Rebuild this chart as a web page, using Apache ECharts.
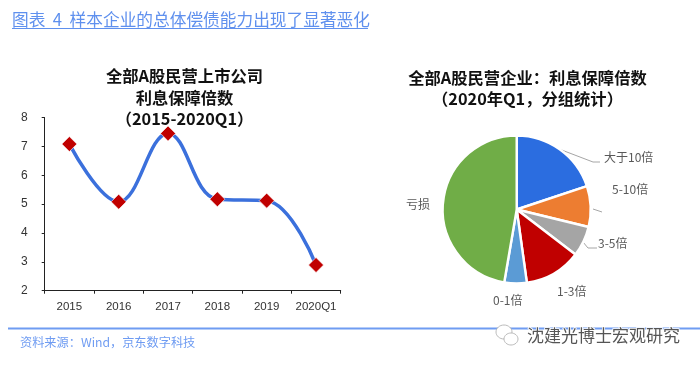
<!DOCTYPE html>
<html><head><meta charset="utf-8">
<style>html,body{margin:0;background:#fff}#c{width:700px;height:366px;filter:blur(0.45px)}</style>
<script src="https://cdn.jsdelivr.net/npm/echarts@6/dist/echarts.min.js"></script>
</head><body><div id="c"></div>
<script>
const years = ['2015','2016','2017','2018','2019','2020Q1'];
const coverage = [7.08,5.08,7.45,5.17,5.12,2.89];
const groups = ['大于10倍','5-10倍','3-5倍','1-3倍','0-1倍','亏损'];
const shares = [19.9,8.9,6.6,12.4,4.9,47.3];
const sliceColors = ['#2b6de0','#ed7d31','#a5a5a5','#c00000','#5b9bd5','#70ad47'];
const labelSpots = [[604,157,'left'],[612,189,'left'],[598,243,'left'],[557,291,'left'],[493,300,'left'],[406,204,'left']];
const leaders = [[[559,149],[593,162],[600,162]],[[593,209],[602,212]],[[583,242],[588,248],[597,248]]];
const cjk = '"Noto Sans CJK SC"';
const latin = '"Liberation Sans","Noto Sans CJK SC"';
const chart = echarts.init(document.getElementById('c'),null,{renderer:'canvas'});
const titleStyle = {fontFamily:cjk,fontWeight:'bold',fontSize:16.3,color:'#111',lineHeight:21.5,align:'center'};
chart.setOption({
  animation:false,
  backgroundColor:'#fff',
  title:[
    {text:'图表  4  样本企业的总体偿债能力出现了显著恶化',left:7,top:6.5,textStyle:{fontFamily:cjk,fontWeight:'normal',fontSize:16.7,color:'#5f90ee'}},
    {text:'全部A股民营上市公司\n利息保障倍数\n（2015-2020Q1）',left:179.5,top:60.5,textAlign:'center',textStyle:titleStyle},
    {text:'全部A股民营企业：利息保障倍数\n（2020年Q1，分组统计）',left:522.5,top:62,textAlign:'center',textStyle:titleStyle},
    {text:'资料来源：Wind，京东数字科技',left:15,top:331,textStyle:{fontFamily:cjk,fontWeight:'normal',fontSize:12.2,color:'#6f9cf2'}}
  ],
  grid:{left:44.7,right:359.3,top:117.5,bottom:75.3,containLabel:false},
  xAxis:{type:'category',data:years,boundaryGap:true,
    axisLine:{lineStyle:{color:'#222',width:1}},
    axisTick:{show:true,alignWithLabel:false,length:3,lineStyle:{color:'#222'}},
    axisLabel:{fontFamily:latin,fontSize:11.5,color:'#333',margin:10,interval:0}},
  yAxis:{type:'value',min:2,max:8,interval:1,
    axisLine:{show:true,lineStyle:{color:'#222',width:1}},
    axisTick:{show:true,length:3,lineStyle:{color:'#222'}},
    splitLine:{show:false},
    axisLabel:{fontFamily:latin,fontSize:12,color:'#333',margin:17}},
  series:[
    {type:'line',data:coverage,smooth:0.4,symbol:'diamond',symbolSize:15,z:3,
     lineStyle:{color:'#3b70dc',width:3.5},
     itemStyle:{color:'#c00000',borderColor:'#fff',borderWidth:0.6}},
    {type:'pie',center:[516.7,209.5],radius:[0,74],startAngle:90,clockwise:true,
     data:groups.map((n,i)=>({name:n,value:shares[i],itemStyle:{color:sliceColors[i]}})),
     itemStyle:{borderColor:'#fff',borderWidth:2.4},
     label:{show:true,formatter:'{b}',fontFamily:cjk,fontSize:12,color:'#595959'},
     labelLine:{show:false},
     labelLayout:p=>{const s=labelSpots[p.dataIndex];return {x:s[0],y:s[1],align:s[2],verticalAlign:'middle'};}}
  ],
  graphic:[
    {type:'line',shape:{x1:8,y1:328.5,x2:700,y2:328.5},style:{stroke:'#6f9cf2',lineWidth:2}},
    {type:'line',shape:{x1:12,y1:28.5,x2:368,y2:28.5},style:{stroke:'#5f90ee',lineWidth:1.2}},
    ...leaders.map(pts=>({type:'polyline',shape:{points:pts},style:{stroke:'#a6a6a6',lineWidth:1,fill:null}})),
    {type:'ellipse',shape:{cx:504,cy:332,rx:8,ry:7},style:{fill:'#fff',stroke:'#aaa',lineWidth:0.8}},
    {type:'ellipse',shape:{cx:511,cy:339,rx:7,ry:6},style:{fill:'#fff',stroke:'#aaa',lineWidth:0.8}},
    {type:'text',x:527,y:327,style:{text:'沈建光博士宏观研究',fontFamily:cjk,fontSize:17,fill:'#555',stroke:'#fff',lineWidth:1.5}}
  ]
});
</script></body></html>
